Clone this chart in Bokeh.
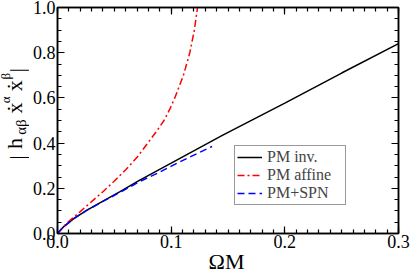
import math
from bokeh.plotting import figure
from bokeh.layouts import row, column
from bokeh.models import (Range1d, LinearAxis, FixedTicker, PrintfTickFormatter,
                          CustomJSTickFormatter, Label, Legend, LegendItem)
from bokeh.embed import file_html
from bokeh.resources import INLINE

# ---- data ----
om_inv = [0, 0.005, 0.014, 0.0256, 0.04, 0.055, 0.072, 0.1, 0.145, 0.2, 0.25, 0.3]
h_inv = [0, 0.028, 0.065, 0.102, 0.143, 0.185, 0.235, 0.311, 0.434, 0.577, 0.71, 0.84]

om_aff = [0, 0.005, 0.011, 0.02, 0.03, 0.04, 0.05, 0.06, 0.07, 0.0794, 0.0868, 0.0937,
          0.0988, 0.1032, 0.1108, 0.1164, 0.1204, 0.1232]
h_aff = [0, 0.03, 0.058, 0.097, 0.141, 0.185, 0.232, 0.282, 0.337, 0.4, 0.45, 0.5,
         0.55, 0.6, 0.7, 0.8, 0.9, 1.0]

om_spn = [0, 0.005, 0.014, 0.0256, 0.04, 0.055, 0.072, 0.09, 0.104, 0.12, 0.136]
h_spn = [0, 0.028, 0.065, 0.102, 0.142, 0.182, 0.229, 0.272, 0.308, 0.347, 0.385]

series_names = ["PM inv.", "PM affine", "PM+SPN"]
x_ticks = [0.0, 0.1, 0.2, 0.3]
y_ticks = [0.0, 0.2, 0.4, 0.6, 0.8, 1.0]

FONT = "Liberation Serif"
X0, X1, Y0, Y1 = 0.0, 0.3, 0.0, 1.0

# ---- layout sizes ----
TOTAL_W, TOTAL_H = 410, 273
LAB_W = 29                  # strip for rotated y label
MAIN_W = TOTAL_W - LAB_W    # main plot
MAIN_H = 254
XLAB_H = TOTAL_H - MAIN_H
FL, FR, FT, FB = 25, 12, 7, 21

p = figure(width=MAIN_W, height=MAIN_H, output_backend="svg", toolbar_location=None,
           title=None, x_range=Range1d(X0, X1), y_range=Range1d(Y0, Y1),
           min_border_left=FL, min_border_right=FR, min_border_top=FT, min_border_bottom=FB,
           x_axis_type=None, y_axis_type=None)
p.xgrid.grid_line_color = None
p.ygrid.grid_line_color = None
p.outline_line_color = "black"
p.outline_line_width = 1.5
p.background_fill_color = "white"
p.border_fill_color = "white"

x_minor = [i * 0.01 for i in range(31)]
y_minor = [i * 0.05 for i in range(21)]


def make_axis(major, minor, show_labels, standoff=2):
    ax = LinearAxis(ticker=FixedTicker(ticks=major, minor_ticks=minor))
    ax.axis_line_color = "black"
    ax.axis_line_width = 1.5
    ax.major_tick_in = 7
    ax.major_tick_out = 0
    ax.minor_tick_in = 4
    ax.minor_tick_out = 0
    ax.major_tick_line_width = 1.2
    ax.minor_tick_line_width = 1.2
    ax.major_label_standoff = standoff
    ax.major_label_text_font = FONT
    ax.major_label_text_font_size = "18px"
    ax.major_label_text_color = "black"
    if show_labels:
        ax.formatter = PrintfTickFormatter(format="%.1f")
    else:
        ax.formatter = CustomJSTickFormatter(code="return ''")
        ax.major_label_standoff = 0
    return ax


p.add_layout(make_axis(x_ticks, x_minor, True, standoff=1), "below")
p.add_layout(make_axis(y_ticks, y_minor, True), "left")
p.add_layout(make_axis(x_ticks, x_minor, False), "above")
p.add_layout(make_axis(y_ticks, y_minor, False), "right")

r_inv = p.line(om_inv, h_inv, line_color="black", line_width=1.5)
r_aff = p.line(om_aff, h_aff, line_color="red", line_width=1.5, line_dash="7 3 2 3")
r_spn = p.line(om_spn, h_spn, line_color="blue", line_width=1.5, line_dash="7 4")

legend = Legend(items=[LegendItem(label=series_names[0], renderers=[r_inv]),
                       LegendItem(label=series_names[1], renderers=[r_aff]),
                       LegendItem(label=series_names[2], renderers=[r_spn])],
                location=(177, 28))
legend.label_text_font = FONT
legend.label_text_font_size = "16px"
legend.label_height = 16
legend.label_width = 76
legend.glyph_height = 16
legend.glyph_width = 25
legend.label_standoff = 5
legend.padding = 2
legend.spacing = 0
legend.margin = 0
legend.border_line_color = "#333333"
legend.border_line_width = 1
legend.background_fill_color = "white"
legend.background_fill_alpha = 1.0
p.add_layout(legend, "center")


def strip_fig(w, h):
    f = figure(width=w, height=h, output_backend="svg", toolbar_location=None,
               title=None, x_range=Range1d(0, w), y_range=Range1d(0, h),
               min_border=0, min_border_left=0, min_border_right=0,
               min_border_top=0, min_border_bottom=0,
               x_axis_type=None, y_axis_type=None)
    f.xgrid.grid_line_color = None
    f.ygrid.grid_line_color = None
    f.outline_line_color = None
    f.background_fill_color = "white"
    f.border_fill_color = "white"
    return f


# ---- rotated y label strip (strip pixels, y measured from the strip bottom) ----
ylab = strip_fig(LAB_W, MAIN_H)
MAIN_SIZE, SUB_SIZE, SUP_SIZE = 22, 15, 13
BASE_X, SUB_X, SUP_X = 21, 25.5, 9
MID = 0.334   # distance baseline -> middle of text box, in em
# (text, page-y where the text starts, baseline x, size)
ylabel_parts = [("|", 171, BASE_X + 2, MAIN_SIZE), ("h", 159, BASE_X, MAIN_SIZE),
                ("αβ", 143, SUB_X, SUB_SIZE), ("x", 119, BASE_X, MAIN_SIZE),
                ("α", 107.5, SUP_X, SUP_SIZE), ("x", 94, BASE_X, MAIN_SIZE),
                ("β", 81, SUP_X, SUP_SIZE), ("|", 73, BASE_X + 2, MAIN_SIZE)]
for txt, wy, bx, sz in ylabel_parts:
    ylab.add_layout(Label(x=bx - MID * sz, y=MAIN_H - wy, text=txt, angle=math.pi / 2,
                          text_font=FONT, text_font_size=f"{sz}px", text_align="left",
                          text_baseline="middle", text_color="black"))
    if txt == "x":
        ylab.add_layout(Label(x=bx - MID * sz, y=MAIN_H - wy + sz * 0.25, text="˙",
                              angle=math.pi / 2, text_font=FONT,
                              text_font_size=f"{sz}px", text_align="center",
                              text_baseline="middle", text_color="black"))

# ---- x label strip ----
xlab = strip_fig(TOTAL_W, XLAB_H)
frame_center = LAB_W + FL + (MAIN_W - FL - FR) / 2
xlab.add_layout(Label(x=frame_center, y=0, text="ΩM", text_font=FONT,
                      text_font_size="22px", text_align="center",
                      text_baseline="bottom", text_color="black"))

layout = column(row(ylab, p, spacing=0), xlab, spacing=0)
open("out.html", "w").write(file_html(layout, INLINE))
